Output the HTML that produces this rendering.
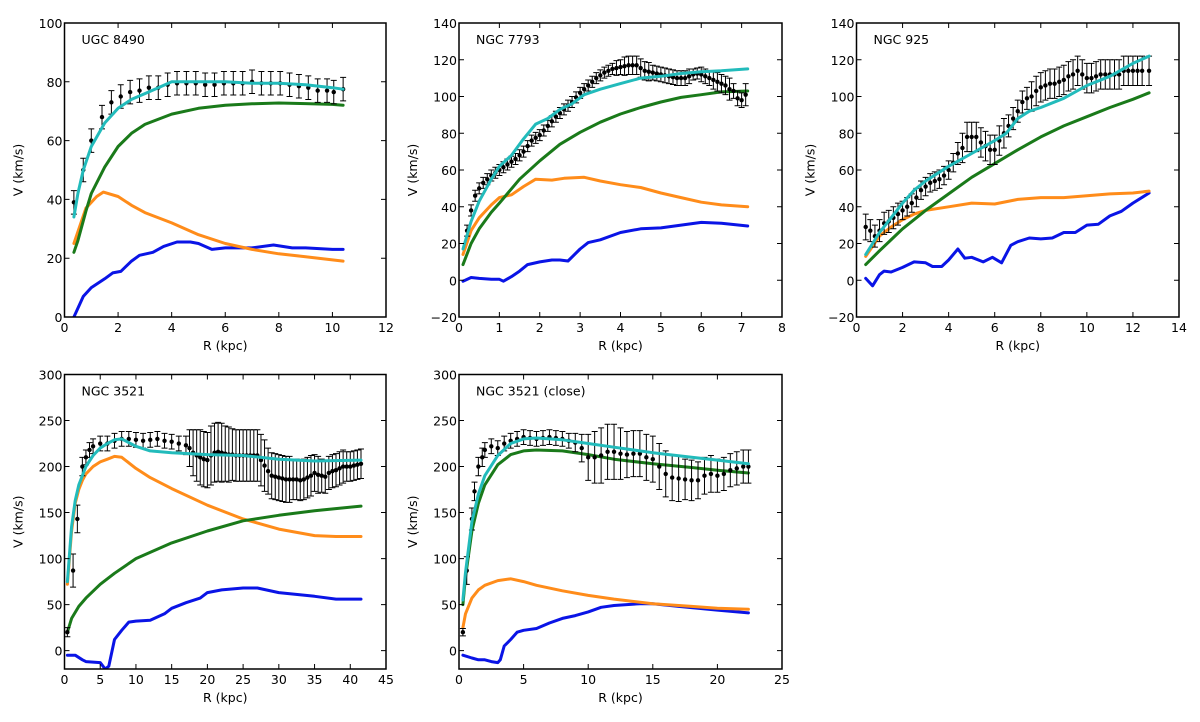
<!DOCTYPE html>
<html><head><meta charset="utf-8"><style>
html,body{margin:0;padding:0;background:#fff;}
svg{display:block;font-family:"DejaVu Sans","Liberation Sans",sans-serif;}
</style></head><body>
<svg id="fig" width="1200" height="722" viewBox="0 0 1200 722"></svg>
<script>
// ---- Panel 1: UGC 8490 ----
const p1GasR=[0.35,0.7,1,1.5,1.8,2.1,2.5,2.8,3.3,3.7,4.2,4.7,5,5.5,6,7,7.8,8.5,9,10,10.4];
const p1GasV=[0,7,10,13,15,15.5,19,21,22,24,25.5,25.5,25,23,23.5,23.5,24.5,23.5,23.5,23,23];
const p1DiskR=[0.35,0.8,1.2,1.45,2,2.5,3,4,5,6,7,8,9,10.4];
const p1DiskV=[25,37,41,42.5,41,38,35.5,32,28,25,23,21.5,20.5,19];
const p1HaloR=[0.35,0.5,0.8,1,1.5,2,2.5,3,4,5,6,7,8,9,10,10.4];
const p1HaloV=[22,26,36,42,51,58,62.5,65.5,69,71,72,72.5,72.8,72.6,72.3,72];
const p1TotR=[0.35,0.5,0.7,1,1.5,2,2.5,3,3.5,4,5,6,7,8,9,10,10.4];
const p1TotV=[34,42,50,58,66,71,74,76,78,80,80,80,79.5,79.5,79,78,77.5];
const p1ObsR=[0.35,0.7,1.0,1.4,1.75,2.1,2.45,2.8,3.15,3.5,3.85,4.2,4.55,4.9,5.25,5.6,5.95,6.3,6.65,7,7.35,7.7,8.05,8.4,8.75,9.1,9.45,9.8,10.05,10.4];
const p1ObsV=[39,50,60,68,73,75,76.5,77,78,78,79,79.5,79.5,79.5,79,79,79.5,79.5,79.5,80,79.5,79.5,79.5,79,78.5,78,77,77,76.5,77.5];
const p1ObsE=[4,4,4,4,4,4,4,4,4,4,4,4,4,4,4,4,4,4,4,4,4,4,4,4,4,4,4,4,4,4];
// ---- Panel 2: NGC 7793 ----
const p2GasR=[0.1,0.3,0.5,0.8,1,1.1,1.3,1.5,1.7,2,2.3,2.5,2.7,3,3.2,3.5,4,4.5,5,5.5,6,6.5,7.15];
const p2GasV=[-0.5,1.5,1,0.5,0.5,-0.5,2,5,8.5,10,11,11,10.5,17,20.5,22,26,28,28.5,30,31.5,31,29.5];
const p2DiskR=[0.1,0.3,0.5,0.8,1,1.3,1.6,1.9,2.3,2.6,3.1,3.5,4,4.5,5,5.5,6,6.5,7.15];
const p2DiskV=[14,27,34,41,45,46.5,51,55,54.5,55.5,56,54,52,50.5,47.5,45,42.5,41,40];
const p2HaloR=[0.1,0.3,0.5,0.8,1,1.5,2,2.5,3,3.5,4,4.5,5,5.5,6,6.5,7.15];
const p2HaloV=[8.5,20,28,37,42,55,65,74,80.5,86,90.5,94,97,99.5,101,102.5,103];
const p2TotR=[0.1,0.3,0.5,0.8,1,1.3,1.6,1.9,2.2,2.5,2.8,3.1,3.5,4,4.5,5,5.5,6,6.5,7.15];
const p2TotV=[17,32,43,55,62,68,77,85,88,93,96,101,104,107,110,111,112.5,113.5,114,115];
const p2ObsR=[0.2,0.3,0.4,0.5,0.6,0.7,0.8,0.9,1.0,1.1,1.2,1.3,1.4,1.5,1.6,1.7,1.8,1.9,2.0,2.1,2.2,2.3,2.4,2.5,2.6,2.7,2.8,2.9,3.0,3.1,3.2,3.3,3.4,3.5,3.6,3.7,3.8,3.9,4.0,4.1,4.2,4.3,4.4,4.5,4.6,4.7,4.8,4.9,5.0,5.1,5.2,5.3,5.4,5.5,5.6,5.7,5.8,5.9,6.0,6.1,6.2,6.3,6.4,6.5,6.6,6.7,6.8,6.9,7.0,7.1];
const p2ObsV=[27,38,46,50,53,55,57,58.5,60,61.5,63,64.5,66,68,70,73,76,77.5,79,81.5,84,86.5,89,91,93,95,97,99.5,102,104,106,108,110,111.5,113,114,115,115.5,116,116.5,117,117,117,115.5,114,113.5,113,112.5,112,111.5,111,110.5,110,110,110,111,112,112.5,112,111,110,109,108,107,106,104,103,99,98,101];
const p2ObsE=[3,3,3,3,3,3,3,3,3,3,3,3,3,3,3,3,3,3,3,3,3,3,3,3,3,3,3,3,3,3,3,3,3,3,3,3,3,4,4,5,5,5,5,5,5,5,4,4,4,4,4,4,4,4,4,4,3,3,4,4,4,5,5,5,5,6,4,4,4,6];
// ---- Panel 3: NGC 925 ----
const p3GasR=[0.4,0.7,1,1.2,1.5,2,2.5,3,3.3,3.7,4,4.4,4.7,5,5.5,5.9,6.3,6.7,7,7.5,8,8.5,9,9.5,10,10.5,11,11.5,12,12.7];
const p3GasV=[1,-3,3,5,4.5,7,10,9.5,7.5,7.5,11,17,12,12.5,10,12.5,9.5,19,21,23,22.5,23,26,26,30,30.5,35,37.5,42,47.5];
const p3DiskR=[0.4,1,1.5,2,2.5,3,4,5,6,7,8,9,10,11,12,12.7];
const p3DiskV=[13,24,29,33,36,38,40,42,41.5,44,45,45,46,47,47.5,48.5];
const p3HaloR=[0.4,1,2,3,4,5,6,7,8,9,10,11,12,12.7];
const p3HaloV=[8.5,16,28,38,47,56,63.5,71,78,84,89,94,98.5,102];
const p3TotR=[0.4,1,1.5,2,2.5,3,4,5,6,6.5,7,7.5,8,9,10,11,12,12.7];
const p3TotV=[14,26,34,42,49,54,62,69,76,80,88,92,94,99,106,111,118,122];
const p3ObsR=[0.4,0.6,0.8,1.0,1.2,1.4,1.6,1.8,2.0,2.2,2.4,2.6,2.8,3.0,3.2,3.4,3.6,3.8,4.0,4.2,4.4,4.6,4.8,5.0,5.2,5.4,5.6,5.8,6.0,6.2,6.4,6.6,6.8,7.0,7.2,7.4,7.6,7.8,8.0,8.2,8.4,8.6,8.8,9.0,9.2,9.4,9.6,9.8,10.0,10.2,10.4,10.6,10.8,11.0,11.2,11.4,11.6,11.8,12.0,12.2,12.4,12.7];
const p3ObsV=[29,27,24,27,31,32,34,36,38,40,42,45,49,51,53,54,55,57,60,64,69,72,78,78,78,75,73,71,71,76,80,84,88,92,97,99,100,103,105,106,107,107,108,109,111,112,114,112,110,110,111,112,112,112,112,112,114,114,114,114,114,114];
const p3ObsE=[7,6,6,6,6,6,6,6,5,5,5,5,5,5,5,5,5,5,5,5,6,8,8,8,8,8,8,8,8,8,8,6,6,6,6,6,8,8,8,8,8,8,8,8,8,8,8,8,8,8,8,8,8,8,8,8,8,8,8,8,8,8];
// ---- Panel 4: NGC 3521 ----
const p4GasR=[0.4,1.5,2.5,3,5,5.7,6.2,7,8,9,10,12,14,15,17,19,20,22,25,27,30,35,38,41.5];
const p4GasV=[-5,-5,-10,-12,-13,-20,-17,12,22,31,32,33,40,46,52,57,63,66,68,68,63,59,56,56];
const p4DiskR=[0.4,1,1.5,2,2.5,3,4,5,6,7,8,10,12,15,20,25,30,35,38,41.5];
const p4DiskV=[72,130,160,175,185,192,200,205,208,211,210,198,188,176,158,143,132,125,124,124];
const p4HaloR=[0.4,1,2,3,5,7,10,15,20,25,30,35,41.5];
const p4HaloV=[20,35,48,57,72,84,100,117,130,141,147,152,157];
const p4TotR=[0.4,1,1.5,2,3,4,5,6,7,8,9,10,12,15,20,25,30,35,41.5];
const p4TotV=[75,135,163,180,200,212,220,225,229,230,226,222,217,215,213,212,208,206,207];
const p4ObsR=[0.4,1.2,1.8,2.5,3,3.5,4,5,6,7,8,9,10,11,12,13,14,15,16,17,17.5,18,18.5,19,19.5,20,20.5,21,21.5,22,22.5,23,23.5,24,24.5,25,25.5,26,26.5,27,27.5,28,28.5,29,29.5,30,30.5,31,31.5,32,32.5,33,33.5,34,34.5,35,35.5,36,36.5,37,37.5,38,38.5,39,39.5,40,40.5,41,41.5];
const p4ObsV=[20,87,143,200,210,218,222,225,225,228,230,230,229,228,229,230,228,227,225,223,220,215,212,210,208,207,212,215,216,215,214,213,213,212,212,212,212,212,212,212,207,201,195,190,189,188,187,186,186,186,186,185,186,188,190,193,191,190,189,193,195,196,198,200,200,200,201,202,203];
const p4ObsE=[5,18,15,10,8,8,8,8,8,8,8,8,8,8,8,8,8,8,8,10,20,25,28,30,30,30,32,32,32,32,30,30,28,28,28,28,28,28,28,28,28,28,25,25,25,25,25,25,25,22,22,22,22,22,22,20,20,18,18,18,18,18,18,18,16,16,16,16,16];
// ---- Panel 5: NGC 3521 (close) ----
const p5GasR=[0.3,1,1.5,2,2.5,3,3.2,3.5,4,4.5,5,6,7,8,9,10,11,12,14,15,17,20,22.4];
const p5GasV=[-5,-8,-10,-10,-12,-13,-10,5,12,20,22,24,30,35,38,42,47,49,51,51,48,44,41];
const p5DiskR=[0.3,0.5,1,1.5,2,3,4,5,6,8,10,12,15,18,20,22.4];
const p5DiskV=[25,40,57,66,71,76,78,75,71,65,60,56,51,48,46,45];
const p5HaloR=[0.3,0.5,1,1.5,2,3,4,5,6,8,10,12,15,18,20,22.4];
const p5HaloV=[50,80,130,160,180,202,213,217,218,217,213,208,203,199,196,193];
const p5TotR=[0.3,0.5,1,1.5,2,3,4,5,6,8,10,12,15,18,20,22.4];
const p5TotV=[55,85,140,170,190,212,225,230,231,229,225,221,215,210,207,203];
const p5ObsR=[0.3,0.6,1,1.2,1.5,1.8,2,2.5,3,3.5,4,4.5,5,5.5,6,6.5,7,7.5,8,8.5,9,9.5,10,10.5,11,11.5,12,12.5,13,13.5,14,14.5,15,15.5,16,16.5,17,17.5,18,18.5,19,19.5,20,20.5,21,21.5,22,22.4];
const p5ObsV=[20,87,143,173,200,210,218,222,220,225,228,230,232,231,230,231,232,231,230,228,226,220,210,210,212,216,216,214,213,214,214,210,208,200,192,188,187,186,185,185,190,192,190,192,196,198,200,200];
const p5ObsE=[4,15,12,10,10,10,8,8,8,8,8,8,8,8,8,8,8,8,8,8,10,15,25,28,30,30,30,28,25,25,25,25,25,25,25,25,25,22,22,20,20,20,18,18,18,18,18,18];

const NS='http://www.w3.org/2000/svg';
const svg=document.getElementById('fig');
function mk(tag,attrs,parent){const e=document.createElementNS(NS,tag);for(const k in attrs)e.setAttribute(k,attrs[k]);(parent||svg).appendChild(e);return e;}

const panels=[
 {name:'ugc-8490',title:'UGC 8490',L:64.5,T:23,W:321.5,H:294,xmin:0,xmax:12,xstep:2,ymin:0,ymax:100,ystep:20,ystart:0,
  gas:[p1GasR,p1GasV],disk:[p1DiskR,p1DiskV],halo:[p1HaloR,p1HaloV],tot:[p1TotR,p1TotV],obs:[p1ObsR,p1ObsV,p1ObsE]},
 {name:'ngc-7793',title:'NGC 7793',L:459,T:23,W:323,H:294,xmin:0,xmax:8,xstep:1,ymin:-20,ymax:140,ystep:20,ystart:-20,
  gas:[p2GasR,p2GasV],disk:[p2DiskR,p2DiskV],halo:[p2HaloR,p2HaloV],tot:[p2TotR,p2TotV],obs:[p2ObsR,p2ObsV,p2ObsE]},
 {name:'ngc-925',title:'NGC 925',L:856.5,T:23,W:322.5,H:294,xmin:0,xmax:14,xstep:2,ymin:-20,ymax:140,ystep:20,ystart:-20,
  gas:[p3GasR,p3GasV],disk:[p3DiskR,p3DiskV],halo:[p3HaloR,p3HaloV],tot:[p3TotR,p3TotV],obs:[p3ObsR,p3ObsV,p3ObsE]},
 {name:'ngc-3521',title:'NGC 3521',L:64.5,T:374.5,W:321.5,H:294.5,xmin:0,xmax:45,xstep:5,ymin:-20,ymax:300,ystep:50,ystart:0,
  gas:[p4GasR,p4GasV],disk:[p4DiskR,p4DiskV],halo:[p4HaloR,p4HaloV],tot:[p4TotR,p4TotV],obs:[p4ObsR,p4ObsV,p4ObsE]},
 {name:'ngc-3521-close',title:'NGC 3521 (close)',L:459,T:374.5,W:323,H:294.5,xmin:0,xmax:25,xstep:5,ymin:-20,ymax:300,ystep:50,ystart:0,
  gas:[p5GasR,p5GasV],disk:[p5DiskR,p5DiskV],halo:[p5HaloR,p5HaloV],tot:[p5TotR,p5TotV],obs:[p5ObsR,p5ObsV,p5ObsE]}
];

panels.forEach(p=>{
  const g=mk('g',{});
  
  
  const sx=v=>p.L+(v-p.xmin)/(p.xmax-p.xmin)*p.W;
  const sy=v=>p.T+p.H-(v-p.ymin)/(p.ymax-p.ymin)*p.H;
  const clipId='clip-'+p.name;
  const cp=mk('clipPath',{id:clipId},g);mk('rect',{x:p.L,y:p.T,width:p.W,height:p.H},cp);
  const plot=mk('g',{'clip-path':'url(#'+clipId+')'},g);
  function line(arr,color,nm){
    let d='';arr[0].forEach((r,i)=>{d+=(i?'L':'M')+sx(r).toFixed(1)+','+sy(arr[1][i]).toFixed(1);});
    const e=mk('path',{d:d,fill:'none',stroke:color,'stroke-width':3,'stroke-linejoin':'round','stroke-linecap':'round'},plot);
    
    
  }
  line(p.gas,'#0a14e6','gas-curve');
  line(p.disk,'#ff8c1a','disk-curve');
  line(p.halo,'#1a7a1a','halo-curve');
  const og=mk('g',{},plot);
  
  
  const R=p.obs[0],V=p.obs[1],E=p.obs[2];
  R.forEach((r,i)=>{
    const x=sx(r),y1=sy(V[i]+E[i]),y2=sy(V[i]-E[i]);
    mk('path',{d:`M${x},${y1}L${x},${y2}M${x-3},${y1}L${x+3},${y1}M${x-3},${y2}L${x+3},${y2}`,stroke:'#000','stroke-width':1,fill:'none'},og);
    const c=mk('circle',{cx:x,cy:sy(V[i]),r:2.2,fill:'#000'},og);
    
    
  });
  line(p.tot,'#22bbbb','total-curve');
  const fr=mk('rect',{x:p.L,y:p.T,width:p.W,height:p.H,fill:'none',stroke:'#000','stroke-width':1.5},g);
  
  
  for(let v=p.xmin;v<=p.xmax+1e-9;v+=p.xstep){
    const x=sx(v);
    mk('path',{d:`M${x},${p.T+p.H}l0,-5M${x},${p.T}l0,5`,stroke:'#000','stroke-width':1},g);
    const t=mk('text',{x:x,y:p.T+p.H+15,'text-anchor':'middle','font-size':12.5},g);
    t.textContent=String(v);
    
    
  }
  for(let v=p.ystart;v<=p.ymax+1e-9;v+=p.ystep){
    const y=sy(v);
    mk('path',{d:`M${p.L},${y}l5,0M${p.L+p.W},${y}l-5,0`,stroke:'#000','stroke-width':1},g);
    const t=mk('text',{x:p.L-2,y:y+5,'text-anchor':'end','font-size':12.5},g);
    t.textContent=(v<0?'\u2212':'')+Math.abs(v);
    
    
  }
  const xl=mk('text',{x:p.L+p.W/2,y:p.T+p.H+33,'text-anchor':'middle','font-size':12.5},g);
  xl.textContent='R (kpc)';
  
  
  const yl=mk('text',{x:0,y:0,'text-anchor':'middle','font-size':12.5,transform:`translate(${p.L-42},${p.T+p.H/2}) rotate(-90)`},g);
  yl.textContent='V (km/s)';
  
  
  const tt=mk('text',{x:p.L+17,y:p.T+21,'font-size':12.5},g);
  tt.textContent=p.title;
  
  
});
</script>
</body></html>
